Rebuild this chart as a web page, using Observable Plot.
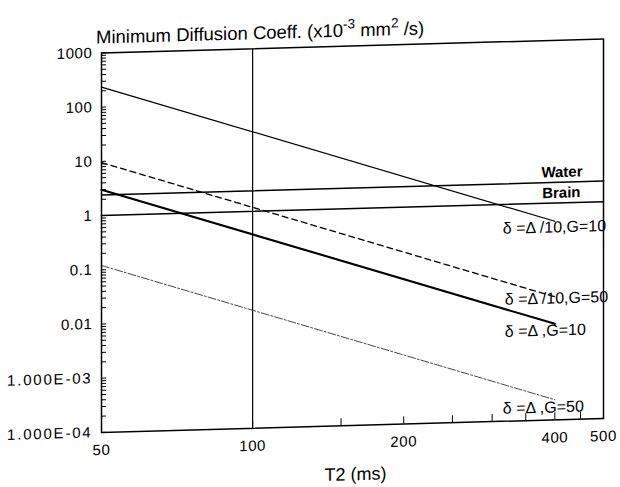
<!DOCTYPE html>
<html><head><meta charset="utf-8">
<script src="https://cdn.jsdelivr.net/npm/d3@7"></script>
<script src="https://cdn.jsdelivr.net/npm/@observablehq/plot@0.6"></script>
<style>
body{margin:0;background:#fff;}
#chart svg{display:block;transform:skewY(-1.59deg);transform-origin:352px 0;}
</style></head><body><div id="chart"></div>
<script>
// T2 (ms) at the two ends of each sloped line
const lineT2 = [50, 400];
// Minimum diffusion coefficient (x10^-3 mm^2/s)
const deltaTenthG10 = [235, 0.46];
const deltaTenthG50 = [9.5, 0.0186];
const deltaFullG10 = [3.0, 0.0059];
const deltaFullG50 = [0.12, 0.000235];
// Tissue reference lines
const tissueT2 = [50, 500];
const waterD = [2.4, 2.4];
const brainD = [1.0, 1.0];
// Axis ticks
const xTickValues = [50, 100, 150, 200, 250, 300, 350, 400, 450, 500];
const xTickLabels = {50: "50", 100: "100", 200: "200", 400: "400", 500: "500"};
const yMajorValues = [1e-4, 1e-3, 0.01, 0.1, 1, 10, 100, 1000];
const yMajorLabels = ["1.000E-04", "1.000E-03", "0.01", "0.1", "1", "10", "100", "1000"];
const lineLabels = ["δ =Δ /10,G=10", "δ =Δ /10,G=50", "δ =Δ ,G=10", "δ =Δ ,G=50"];

const yTickValues = [];
for (let e = -4; e <= 2; e++) for (let k = 1; k <= 9; k++) yTickValues.push(+(k * Math.pow(10, e)).toPrecision(3));
yTickValues.push(1000);
const yLabelMap = new Map(yMajorValues.map((v, i) => [+v.toPrecision(3), yMajorLabels[i]]));

const toRows = (ys) => lineT2.map((t, i) => ({t2: t, d: ys[i]}));
const series = [deltaTenthG10, deltaTenthG50, deltaFullG10, deltaFullG50].map(toRows);
const styles = [
  {stroke: "#000", strokeWidth: 1.2},
  {stroke: "#000", strokeWidth: 1.3, strokeDasharray: "6,4"},
  {stroke: "#000", strokeWidth: 2.1},
  {stroke: "#333", strokeWidth: 0.9, strokeDasharray: "8,2,2,2"}
];
const labelDy = [6, 1.5, 6.5, 7.5];
const labelDx = [-52, -50, -50, -52];

const water = tissueT2.map((t, i) => ({t2: t, d: waterD[i]}));
const brain = tissueT2.map((t, i) => ({t2: t, d: brainD[i]}));

const marks = [
  Plot.ruleX([100], {stroke: "#000", strokeWidth: 1.2}),
  Plot.line(water, {x: "t2", y: "d", stroke: "#000", strokeWidth: 1.5}),
  Plot.line(brain, {x: "t2", y: "d", stroke: "#000", strokeWidth: 1.5}),
  Plot.text([water[1]], {x: "t2", y: "d", text: () => "Water", textAnchor: "end", dx: -21, dy: -10, fontSize: 15, fontWeight: "bold"}),
  Plot.text([brain[1]], {x: "t2", y: "d", text: () => "Brain", textAnchor: "end", dx: -23, dy: -10, fontSize: 15, fontWeight: "bold"}),
  Plot.text(["T2 (ms)"], {frameAnchor: "bottom", lineAnchor: "middle", dx: 3, dy: 49, fontSize: 18, letterSpacing: 2})
];
series.forEach((rows, i) => {
  marks.push(Plot.line(rows, {x: "t2", y: "d", ...styles[i]}));
  marks.push(Plot.text([rows[1]], {x: "t2", y: "d", text: () => lineLabels[i], textAnchor: "start", dx: labelDx[i], dy: labelDy[i], fontSize: 16, letterSpacing: 0.9}));
});
marks.push(Plot.frame({stroke: "#000", strokeWidth: 1.5}));

const svg = Plot.plot({
  width: 620, height: 487,
  marginLeft: 101, marginRight: 17, marginTop: 45.5, marginBottom: 62,
  style: {fontFamily: "'Liberation Sans', Arial, sans-serif", fontSize: "14px", background: "#fff", color: "#000"},
  x: {type: "log", domain: [50, 500], ticks: xTickValues, tickFormat: d => xTickLabels[d] || "", tickSize: -7, tickPadding: 19, label: null},
  y: {type: "log", domain: [1e-4, 1000], ticks: yTickValues, tickFormat: d => yLabelMap.get(+d.toPrecision(3)) || "", tickSize: -5, tickPadding: 14, label: null},
  marks
});
document.getElementById("chart").appendChild(svg);

const root = d3.select(svg);
root.selectAll("g[aria-label$='tick label']").style("font-size", "15px").attr("letter-spacing", 0.6);
root.selectAll("g[aria-label$='tick label'] text").style("font-size", "15px");
root.selectAll("text").filter(function () { return this.textContent.includes("E-0"); }).attr("letter-spacing", "1.8");

const title = root.append("text")
  .attr("x", 96).attr("y", 36.5)
  .attr("text-anchor", "start")
  .attr("font-family", "'Liberation Sans', Arial, sans-serif")
  .attr("font-size", 18.5).attr("fill", "#000");
title.append("tspan").text("Minimum Diffusion Coeff. (x10");
title.append("tspan").attr("dy", -8).attr("font-size", 13.5).text("-3");
title.append("tspan").attr("dy", 8).text(" mm");
title.append("tspan").attr("dy", -8).attr("font-size", 13.5).text("2");
title.append("tspan").attr("dy", 8).text(" /s)");
</script></body></html>
